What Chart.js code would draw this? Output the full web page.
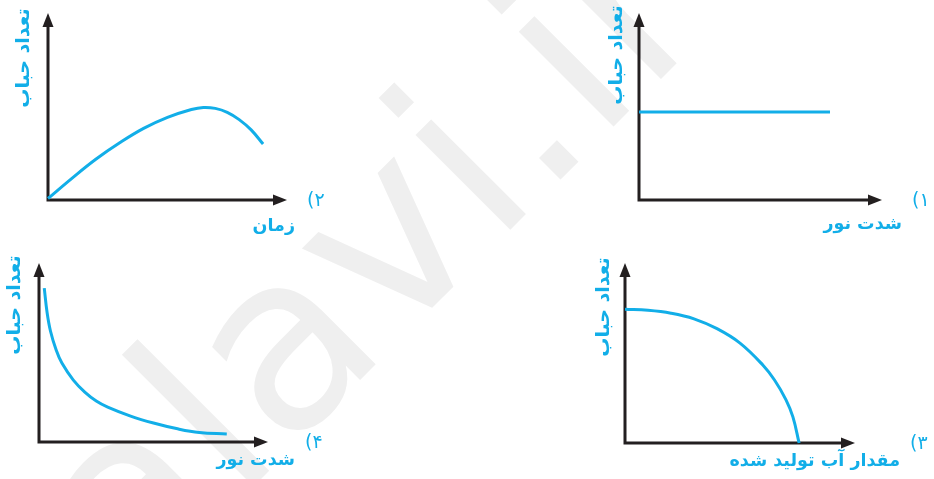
<!DOCTYPE html>
<html>
<head>
<meta charset="utf-8">
<script src="https://cdn.jsdelivr.net/npm/chart.js@4.4.1/dist/chart.umd.min.js"></script>
<style>
  body { margin: 0; background: #fff; width: 934px; height: 479px; overflow: hidden; position: relative; }
  .panel { position: absolute; }
  #bg { position: absolute; left: 0; top: 0; }
</style>
</head>
<body>
<canvas id="bg" width="934" height="479"></canvas>
<div class="panel" style="left:0;top:0;width:340px;height:240px"><canvas id="chart2"></canvas></div>
<div class="panel" style="left:590px;top:0;width:344px;height:240px"><canvas id="chart1"></canvas></div>
<div class="panel" style="left:0;top:240px;width:340px;height:239px"><canvas id="chart4"></canvas></div>
<div class="panel" style="left:590px;top:240px;width:344px;height:239px"><canvas id="chart3"></canvas></div>
<script>
// axis titles and panel numbers
const yTitle = 'تعداد حباب';
const xTitles = ['شدت نور', 'زمان', 'مقدار آب تولید شده', 'شدت نور'];
const panelNums = ['۱', '۲', '۳', '۴'];

// panel 1: constant
const p1X = [0, 7.86];
const p1Y = [4.71, 4.71];

// panel 2: rises then falls
const p2X = [0, 1, 2, 3, 4, 5, 6, 6.5, 7, 7.5, 8, 8.5, 9];
const p2Y = [0.08, 1.16, 2.18, 3.06, 3.83, 4.42, 4.84, 4.95, 4.9, 4.69, 4.3, 3.75, 2.99];

// panel 3: flat then drops to zero
const p3X = [0, 1, 2, 3, 4, 5, 6, 6.5, 7, 7.3, 7.57];
const p3Y = [7.43, 7.37, 7.21, 6.9, 6.35, 5.55, 4.32, 3.5, 2.4, 1.45, 0];

// panel 4: decays
const p4X = [0.23, 0.35, 0.5, 0.75, 1, 1.5, 2, 2.5, 3, 4, 5, 6, 7, 8.2];
const p4Y = [8.6, 7.26, 6.2, 5.14, 4.41, 3.46, 2.79, 2.29, 1.95, 1.45, 1.06, 0.75, 0.53, 0.45];

const BLUE = '#12aee8';
const INK = '#231f20';

// faint watermark behind everything
(function () {
  const ctx = document.getElementById('bg').getContext('2d');
  ctx.save();
  ctx.translate(131, 609);
  ctx.rotate(-Math.PI / 4);
  ctx.fillStyle = '#efefef';
  ctx.font = '245px "DejaVu Sans"';
  ctx.fillText('alavi.ir', 0, 0);
  ctx.restore();
})();

const arrowAxes = {
  id: 'arrowAxes',
  beforeDatasetsDraw(chart) {
    const { ctx, scales: { x, y } } = chart;
    const x0 = x.getPixelForValue(0), x1 = x.getPixelForValue(10);
    const y0 = y.getPixelForValue(0), y1 = y.getPixelForValue(10);
    ctx.save();
    ctx.strokeStyle = INK;
    ctx.fillStyle = INK;
    ctx.lineWidth = 3;
    ctx.lineCap = 'square';
    ctx.beginPath();
    ctx.moveTo(x0, y1 + 8);
    ctx.lineTo(x0, y0);
    ctx.lineTo(x1 - 8, y0);
    ctx.stroke();
    // arrow heads
    ctx.beginPath();
    ctx.moveTo(x1, y0);
    ctx.lineTo(x1 - 14, y0 - 5.5);
    ctx.lineTo(x1 - 14, y0 + 5.5);
    ctx.closePath();
    ctx.fill();
    ctx.beginPath();
    ctx.moveTo(x0, y1);
    ctx.lineTo(x0 - 5.5, y1 + 14);
    ctx.lineTo(x0 + 5.5, y1 + 14);
    ctx.closePath();
    ctx.fill();
    ctx.restore();
  },
  afterDraw(chart, args, opts) {
    const { ctx, scales: { x, y } } = chart;
    const x0 = x.getPixelForValue(0);
    const y0 = y.getPixelForValue(0);
    const y1 = y.getPixelForValue(10);
    ctx.save();
    ctx.fillStyle = BLUE;
    ctx.textBaseline = 'middle';
    // y title, rotated
    ctx.save();
    ctx.font = 'bold 19px "DejaVu Sans"';
    ctx.translate(x0 - opts.yGap, y1 + opts.yMid);
    ctx.rotate(-Math.PI / 2);
    ctx.textAlign = 'center';
    ctx.direction = 'rtl';
    ctx.fillText(yTitle, 0, 0);
    ctx.restore();
    // x title, right aligned below the axis end
    ctx.font = 'bold 17.5px "DejaVu Sans"';
    ctx.direction = 'rtl';
    ctx.textAlign = 'right';
    ctx.fillText(opts.xTitle, opts.xRight, y0 + opts.xDrop);
    // panel number
    ctx.font = '19px "DejaVu Sans"';
    ctx.direction = 'ltr';
    ctx.textAlign = 'left';
    ctx.fillText('(' + opts.num, opts.numLeft, y0 + 1);
    ctx.restore();
  }
};

function makePanel(id, xs, ys, padding, labels) {
  const points = xs.map((v, i) => ({ x: v, y: ys[i] }));
  new Chart(document.getElementById(id), {
    type: 'line',
    data: {
      datasets: [{
        data: points,
        borderColor: BLUE,
        borderWidth: 3,
        pointRadius: 0,
        fill: false,
        clip: false,
        tension: 0.4
      }]
    },
    options: {
      responsive: true,
      maintainAspectRatio: false,
      animation: false,
      events: [],
      layout: { padding: padding },
      scales: {
        x: { type: 'linear', min: 0, max: 10, display: false },
        y: { type: 'linear', min: 0, max: 10, display: false }
      },
      plugins: {
        legend: { display: false },
        tooltip: { enabled: false },
        arrowAxes: labels
      }
    },
    plugins: [arrowAxes]
  });
}

makePanel('chart1', p1X, p1Y, { left: 49, top: 13, right: 52, bottom: 40 },
  { xTitle: xTitles[0], num: panelNums[0], yGap: 22, yMid: 42, xRight: 312, xDrop: 24, numLeft: 322 });
makePanel('chart2', p2X, p2Y, { left: 48, top: 13, right: 53, bottom: 40 },
  { xTitle: xTitles[1], num: panelNums[1], yGap: 24, yMid: 45, xRight: 295, xDrop: 26, numLeft: 307 });
makePanel('chart3', p3X, p3Y, { left: 35, top: 23, right: 79, bottom: 36 },
  { xTitle: xTitles[2], num: panelNums[2], yGap: 21, yMid: 44, xRight: 310, xDrop: 18, numLeft: 320 });
makePanel('chart4', p4X, p4Y, { left: 39, top: 23, right: 72, bottom: 37 },
  { xTitle: xTitles[3], num: panelNums[3], yGap: 24, yMid: 42, xRight: 295, xDrop: 18, numLeft: 305 });
</script>
</body>
</html>
